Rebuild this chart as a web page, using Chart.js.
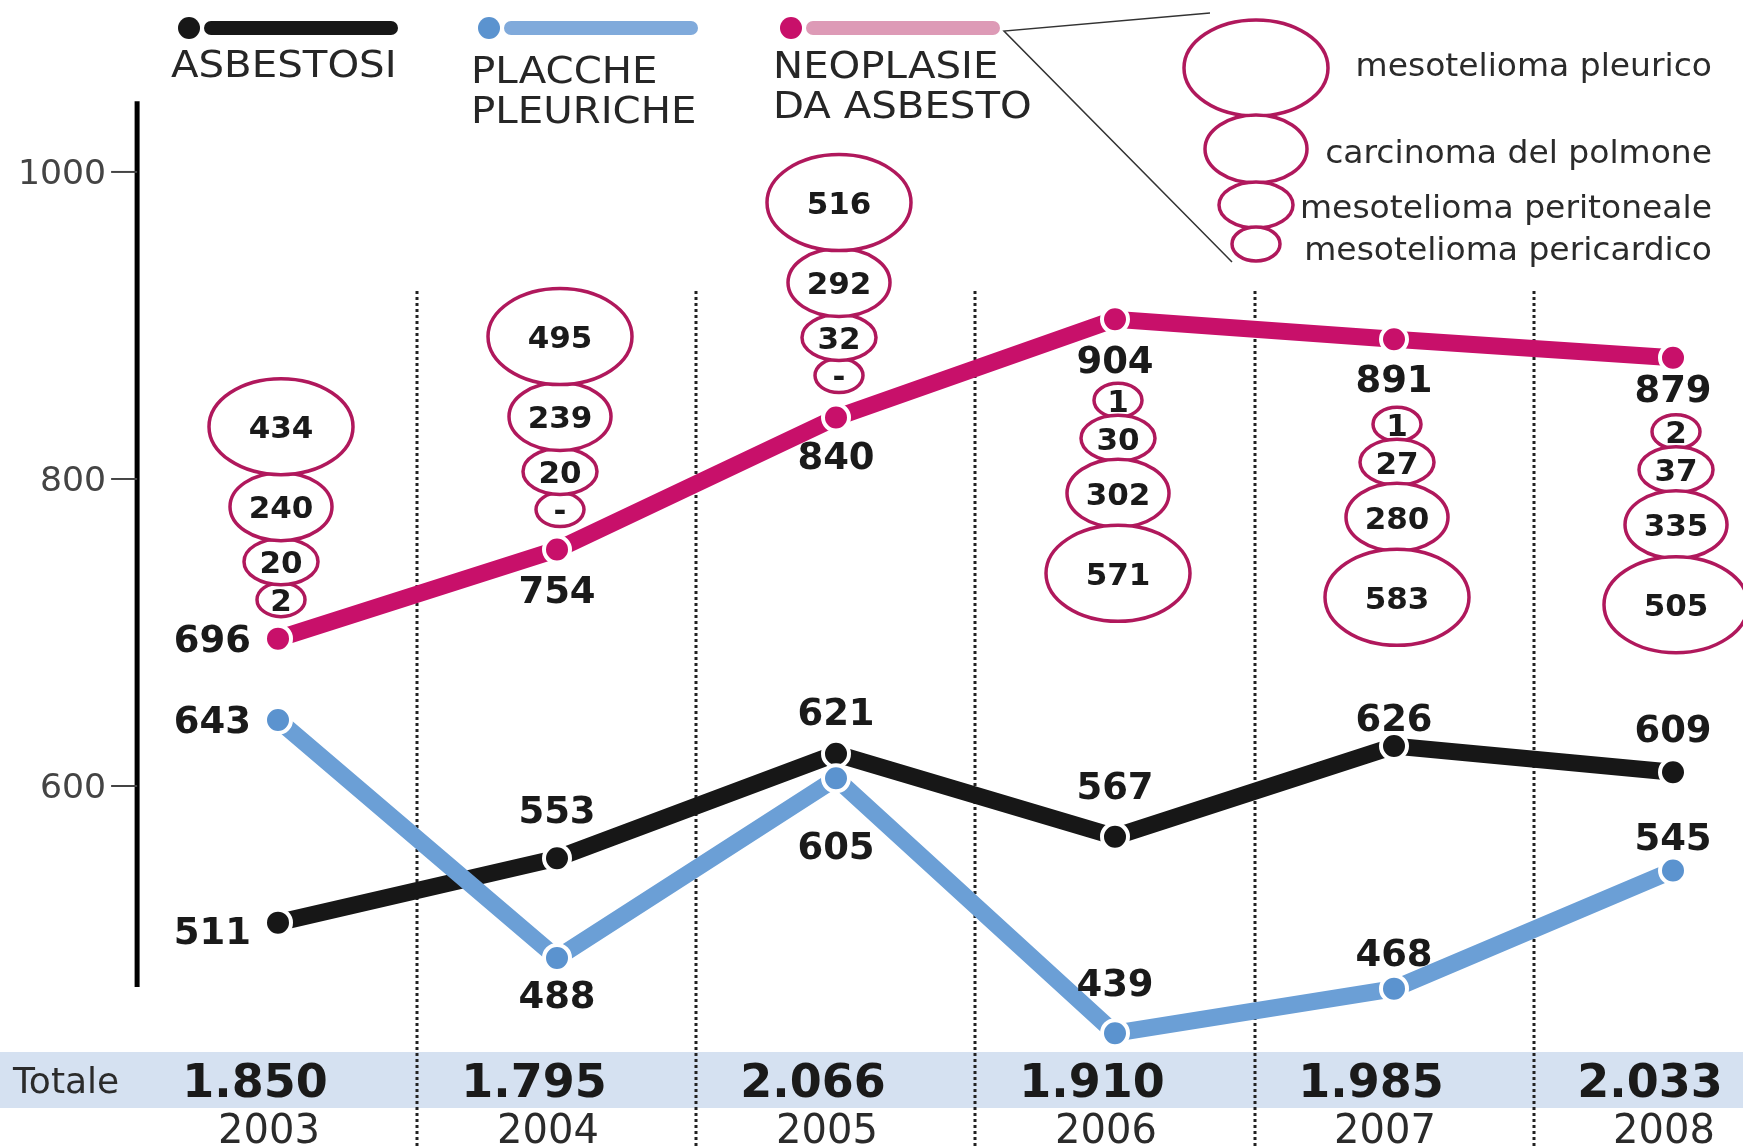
<!DOCTYPE html>
<html>
<head>
<meta charset="utf-8">
<script src="https://cdn.jsdelivr.net/npm/chart.js@4.4.1/dist/chart.umd.min.js"></script>
<style>
  html, body { margin: 0; padding: 0; background: #fff; }
  #wrap { width: 1743px; height: 1146px; }
</style>
</head>
<body>
<div id="wrap"><canvas id="lineChart" width="1743" height="1146"></canvas></div>
<script>
// dati
const anni = ["2003", "2004", "2005", "2006", "2007", "2008"];
const asbestosi = [511, 553, 621, 567, 626, 609];
const placche = [643, 488, 605, 439, 468, 545];
const neoplasie = [696, 754, 840, 904, 891, 879];
const totale = [1850, 1795, 2066, 1910, 1985, 2033];

// dettaglio neoplasie (null = "-")
const mesoPleurico = [434, 495, 516, 571, 583, 505];
const carcinomaPolmone = [240, 239, 292, 302, 280, 335];
const mesoPeritoneale = [20, 20, 32, 30, 27, 37];
const mesoPericardico = [2, null, null, 1, 1, 2];
const nomiNeoplasie = ["mesotelioma pleurico", "carcinoma del polmone", "mesotelioma peritoneale", "mesotelioma pericardico"];

const yTicks = [600, 800, 1000];

// stile / posizioni
const FONT = "'DejaVu Sans', 'Liberation Sans', sans-serif";
const NERO = "#171717";
const BLU = "#6b9fd6";
const MAGENTA = "#c8106a";
const BORDO_BOLLE = "#b0185c";
const BOLLA_RX = [72, 51, 37, 24];
const BOLLA_RY = [48, 34, 23, 17];
const distBolle = [22, 23, 25, 64, 68, 57];
const dyAsbestosi = [8, -49, -42, -51, -29, -44];
const dyPlacche = [0, 37, 67, -51, -36, -34];
const dyNeoplasie = [0, 40, 38, 40, 39, 31];

function punti(arr) {
    return arr.map(function (v, i) { return { x: i, y: v }; });
}

function formatta(n) {
    return String(n).replace(/\B(?=(\d{3})+(?!\d))/g, ".");
}

function testo(ctx, s, x, yCentro, size, bold, align, color, sx) {
    sx = sx || 1;
    ctx.save();
    ctx.font = (bold ? "bold " : "") + size + "px " + FONT;
    ctx.textAlign = align;
    ctx.textBaseline = "alphabetic";
    ctx.fillStyle = color;
    ctx.translate(x, yCentro + size * 0.365);
    ctx.scale(sx, 1);
    ctx.fillText(s, 0, 0);
    ctx.restore();
}

function ellisse(ctx, cx, cy, rx, ry) {
    ctx.beginPath();
    ctx.ellipse(cx, cy, rx, ry, 0, 0, Math.PI * 2);
    ctx.fillStyle = "#fff";
    ctx.fill();
    ctx.lineWidth = 3.5;
    ctx.strokeStyle = BORDO_BOLLE;
    ctx.stroke();
}

const sfondo = {
    id: "sfondo",
    beforeDatasetsDraw: function (chart) {
        const ctx = chart.ctx;
        const x = chart.scales.x;
        const y = chart.scales.y;
        ctx.save();

        // fascia totale
        ctx.fillStyle = "#d5e1f1";
        ctx.fillRect(0, 1052, chart.width, 56);

        // separatori tratteggiati
        ctx.strokeStyle = "#222";
        ctx.lineWidth = 3;
        ctx.setLineDash([3, 3]);
        for (let i = 0; i < anni.length - 1; i++) {
            const px = Math.round(x.getPixelForValue(i + 0.5));
            ctx.beginPath();
            ctx.moveTo(px, 291);
            ctx.lineTo(px, chart.height);
            ctx.stroke();
        }
        ctx.setLineDash([]);

        // asse y
        const ax = x.getPixelForValue(-0.505);
        ctx.strokeStyle = "#000";
        ctx.lineWidth = 5;
        ctx.beginPath();
        ctx.moveTo(ax, y.getPixelForValue(1046));
        ctx.lineTo(ax, y.getPixelForValue(469));
        ctx.stroke();
        ctx.lineWidth = 2;
        ctx.strokeStyle = "#444";
        yTicks.forEach(function (t) {
            const py = y.getPixelForValue(t);
            ctx.beginPath();
            ctx.moveTo(ax - 26, py);
            ctx.lineTo(ax, py);
            ctx.stroke();
            testo(ctx, String(t), ax - 31, py, 33, false, "right", "#444", 1.05);
        });

        // totali e anni
        testo(ctx, "Totale", 13, 1080, 36, false, "left", "#2b2b2b");
        for (let i = 0; i < anni.length; i++) {
            const px = x.getPixelForValue(i);
            testo(ctx, formatta(totale[i]), px - 23, 1080, 46, true, "center", "#1a1a1a");
            testo(ctx, anni[i], px - 9, 1128, 40, false, "center", "#2b2b2b");
        }

        // legenda
        const voci = [
            { x: 189, dot: NERO, bar: NERO, righe: ["ASBESTOSI"], y0: 63 },
            { x: 489, dot: "#5b93cf", bar: "#80aadb", righe: ["PLACCHE", "PLEURICHE"], y0: 69 },
            { x: 791, dot: MAGENTA, bar: "#dd9ab6", righe: ["NEOPLASIE", "DA ASBESTO"], y0: 64 }
        ];
        voci.forEach(function (v) {
            ctx.lineCap = "round";
            ctx.lineWidth = 14;
            ctx.strokeStyle = v.bar;
            ctx.beginPath();
            ctx.moveTo(v.x + 22, 28);
            ctx.lineTo(v.x + 202, 28);
            ctx.stroke();
            ctx.fillStyle = v.dot;
            ctx.beginPath();
            ctx.arc(v.x, 28, 11, 0, Math.PI * 2);
            ctx.fill();
            v.righe.forEach(function (r, k) {
                testo(ctx, r, v.x - 18, v.y0 + k * 40, 38, false, "left", "#262626", 1.06);
            });
        });
        ctx.lineCap = "butt";

        // legenda bolle
        ctx.strokeStyle = "#333";
        ctx.lineWidth = 1.5;
        ctx.beginPath();
        ctx.moveTo(1210, 13);
        ctx.lineTo(1004, 31);
        ctx.lineTo(1232, 262);
        ctx.stroke();
        let bordo = 20;
        const dyTesto = [-4, 2, 1, 4];
        for (let k = 0; k < 4; k++) {
            const cy = bordo + BOLLA_RY[k];
            ellisse(ctx, 1256, cy, BOLLA_RX[k], BOLLA_RY[k]);
            testo(ctx, nomiNeoplasie[k], 1712, cy + dyTesto[k], 32, false, "right", "#2b2b2b", 1.03);
            bordo = cy + BOLLA_RY[k] - 1;
        }
        ctx.restore();
    }
};

const etichette = {
    id: "etichette",
    afterDatasetsDraw: function (chart) {
        const ctx = chart.ctx;
        ctx.save();
        const serie = [
            { idx: 0, dy: dyAsbestosi, vals: asbestosi },
            { idx: 1, dy: dyPlacche, vals: placche },
            { idx: 2, dy: dyNeoplasie, vals: neoplasie }
        ];
        serie.forEach(function (s) {
            const meta = chart.getDatasetMeta(s.idx);
            meta.data.forEach(function (p, i) {
                if (i === 0) {
                    testo(ctx, String(s.vals[i]), p.x - 27, p.y + s.dy[i], 37, true, "right", "#1a1a1a");
                } else {
                    testo(ctx, String(s.vals[i]), p.x, p.y + s.dy[i], 37, true, "center", "#1a1a1a");
                }
            });
        });

        // bolle neoplasie
        const metaN = chart.getDatasetMeta(2);
        metaN.data.forEach(function (p, i) {
            const su = i < 3;
            const valori = [mesoPleurico[i], carcinomaPolmone[i], mesoPeritoneale[i], mesoPericardico[i]];
            let bordo = su ? p.y - distBolle[i] : p.y + distBolle[i];
            for (let k = 3; k >= 0; k--) {
                const ry = BOLLA_RY[k];
                const cy = su ? bordo - ry : bordo + ry;
                ellisse(ctx, p.x + 3, cy, BOLLA_RX[k], ry);
                const v = valori[k];
                testo(ctx, v === null ? "-" : String(v), p.x + 3, cy, 31, true, "center", "#1a1a1a");
                bordo = su ? cy - ry + 2 : cy + ry - 2;
            }
        });
        ctx.restore();
    }
};

function serieLinea(label, dati, colore, colorePunto, ordine) {
    return {
        label: label,
        data: punti(dati),
        borderColor: colore,
        backgroundColor: colore,
        borderWidth: 17,
        borderCapStyle: "butt",
        pointRadius: 13,
        pointBorderWidth: 4,
        pointBorderColor: "#fff",
        pointBackgroundColor: colorePunto,
        tension: 0,
        clip: false,
        order: ordine
    };
}

const ctx = document.getElementById("lineChart").getContext("2d");
new Chart(ctx, {
    type: "line",
    data: {
        datasets: [
            serieLinea("ASBESTOSI", asbestosi, NERO, NERO, 2),
            serieLinea("PLACCHE PLEURICHE", placche, BLU, "#5b93cf", 1),
            serieLinea("NEOPLASIE DA ASBESTO", neoplasie, MAGENTA, MAGENTA, 0)
        ]
    },
    options: {
        responsive: false,
        animation: false,
        devicePixelRatio: 1,
        layout: { padding: 0, autoPadding: false },
        plugins: {
            legend: { display: false },
            tooltip: { enabled: false }
        },
        scales: {
            x: { type: "linear", display: false, min: -278 / 279, max: 5 + 70 / 279 },
            y: { type: "linear", display: false, min: 365.5, max: 1112 }
        }
    },
    plugins: [sfondo, etichette]
});
</script>
</body>
</html>
